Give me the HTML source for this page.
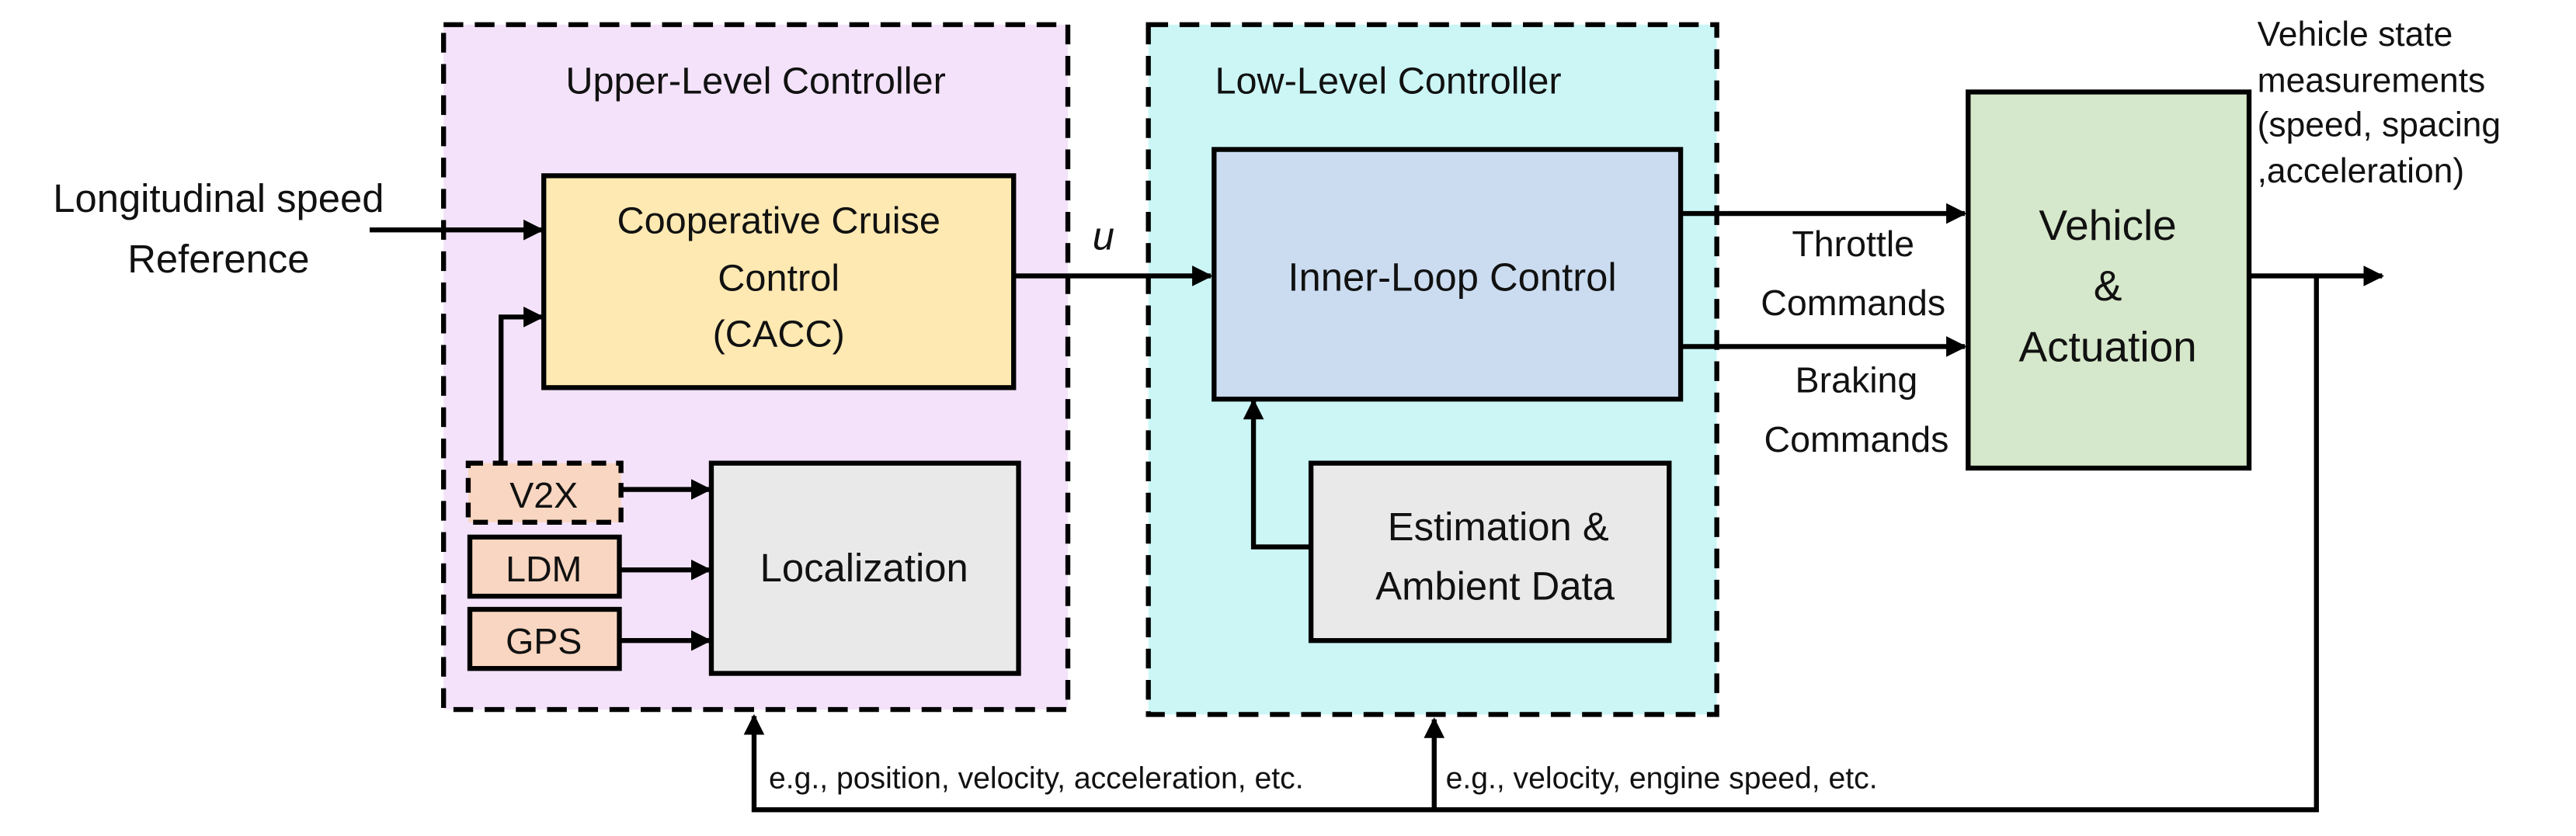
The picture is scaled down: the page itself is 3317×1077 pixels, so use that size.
<!DOCTYPE html>
<html><head><meta charset="utf-8"><style>
html,body{margin:0;padding:0;background:#fff;}
svg{display:block;}
text{font-family:"Liberation Sans Narrow","Liberation Sans",sans-serif;fill:#111;}
</style></head><body>
<svg width="3317" height="1077" viewBox="0 0 1568 509" preserveAspectRatio="none" xmlns="http://www.w3.org/2000/svg">
<defs>
<marker id="a" viewBox="0 0 10 10" refX="9" refY="5" markerWidth="4.2" markerHeight="4.2" orient="auto"><path d="M0,0 L10,5 L0,10 z" fill="#000"/></marker>
</defs>
<rect x="270" y="15" width="380" height="417" fill="#f3e2f9" stroke="#000" stroke-width="3" stroke-dasharray="12,7"/>
<rect x="699" y="15" width="346" height="420" fill="#ccf6f6" stroke="#000" stroke-width="3" stroke-dasharray="12,7"/>
<text x="460" y="57" font-size="23" text-anchor="middle">Upper-Level Controller</text>
<text x="845" y="57" font-size="23" text-anchor="middle">Low-Level Controller</text>
<rect x="331" y="107" width="286" height="129" fill="#fee9b2" stroke="#000" stroke-width="3"/>
<text x="474" y="142" font-size="23" text-anchor="middle">Cooperative Cruise</text>
<text x="474" y="177" font-size="23" text-anchor="middle">Control</text>
<text x="474" y="211" font-size="23" text-anchor="middle">(CACC)</text>
<text x="133" y="129" font-size="24" text-anchor="middle">Longitudinal speed</text>
<text x="133" y="166" font-size="24" text-anchor="middle">Reference</text>
<line x1="225" y1="140" x2="330" y2="140" stroke="#000" stroke-width="3" marker-end="url(#a)"/>
<polyline points="305,283 305,193 330,193" fill="none" stroke="#000" stroke-width="3" marker-end="url(#a)"/>
<rect x="285" y="282" width="93" height="36" fill="#f9d6c1" stroke="#000" stroke-width="3" stroke-dasharray="9,6"/>
<rect x="286" y="327" width="91" height="36" fill="#f9d6c1" stroke="#000" stroke-width="3"/>
<rect x="286" y="371" width="91" height="36" fill="#f9d6c1" stroke="#000" stroke-width="3"/>
<text x="331" y="309" font-size="22" text-anchor="middle">V2X</text>
<text x="331" y="354" font-size="22" text-anchor="middle">LDM</text>
<text x="331" y="398" font-size="22" text-anchor="middle">GPS</text>
<rect x="433" y="282" width="187" height="128" fill="#e9e9e9" stroke="#000" stroke-width="3"/>
<text x="526" y="354" font-size="24" text-anchor="middle">Localization</text>
<line x1="378" y1="298" x2="432" y2="298" stroke="#000" stroke-width="3" marker-end="url(#a)"/>
<line x1="377" y1="347" x2="432" y2="347" stroke="#000" stroke-width="3" marker-end="url(#a)"/>
<line x1="377" y1="390" x2="432" y2="390" stroke="#000" stroke-width="3" marker-end="url(#a)"/>
<text x="665" y="152" font-size="24" font-style="italic" font-family="Liberation Serif,serif">u</text>
<line x1="617" y1="168" x2="737" y2="168" stroke="#000" stroke-width="3" marker-end="url(#a)"/>
<rect x="739" y="91" width="284" height="152" fill="#cbdcf0" stroke="#000" stroke-width="3"/>
<text x="884" y="177" font-size="24" text-anchor="middle">Inner-Loop Control</text>
<rect x="798" y="282" width="218" height="108" fill="#e9e9e9" stroke="#000" stroke-width="3"/>
<text x="912" y="329" font-size="24" text-anchor="middle">Estimation &amp;</text>
<text x="910" y="365" font-size="24" text-anchor="middle">Ambient Data</text>
<polyline points="798,333 763,333 763,244" fill="none" stroke="#000" stroke-width="3" marker-end="url(#a)"/>
<line x1="1023" y1="130" x2="1196" y2="130" stroke="#000" stroke-width="3" marker-end="url(#a)"/>
<line x1="1023" y1="211" x2="1196" y2="211" stroke="#000" stroke-width="3" marker-end="url(#a)"/>
<text x="1128" y="156" font-size="22" text-anchor="middle">Throttle</text>
<text x="1128" y="192" font-size="22" text-anchor="middle">Commands</text>
<text x="1130" y="239" font-size="22" text-anchor="middle">Braking</text>
<text x="1130" y="275" font-size="22" text-anchor="middle">Commands</text>
<rect x="1198" y="56" width="171" height="229" fill="#d6e8cb" stroke="#000" stroke-width="3"/>
<text x="1283" y="146" font-size="26" text-anchor="middle">Vehicle</text>
<text x="1283" y="183" font-size="26" text-anchor="middle">&amp;</text>
<text x="1283" y="220" font-size="26" text-anchor="middle">Actuation</text>
<text x="1374" y="28" font-size="21">Vehicle state</text>
<text x="1374" y="56" font-size="21">measurements</text>
<text x="1374" y="83" font-size="21">(speed, spacing</text>
<text x="1374" y="111" font-size="21">,acceleration)</text>
<line x1="1369" y1="168" x2="1450" y2="168" stroke="#000" stroke-width="3" marker-end="url(#a)"/>
<polyline points="1410,168 1410,493 459,493 459,436" fill="none" stroke="#000" stroke-width="3" marker-end="url(#a)"/>
<line x1="873" y1="493" x2="873" y2="438" stroke="#000" stroke-width="3" marker-end="url(#a)"/>
<text x="468" y="480" font-size="18.5">e.g., position, velocity, acceleration, etc.</text>
<text x="880" y="480" font-size="18.5">e.g., velocity, engine speed, etc.</text>
</svg>
</body></html>
